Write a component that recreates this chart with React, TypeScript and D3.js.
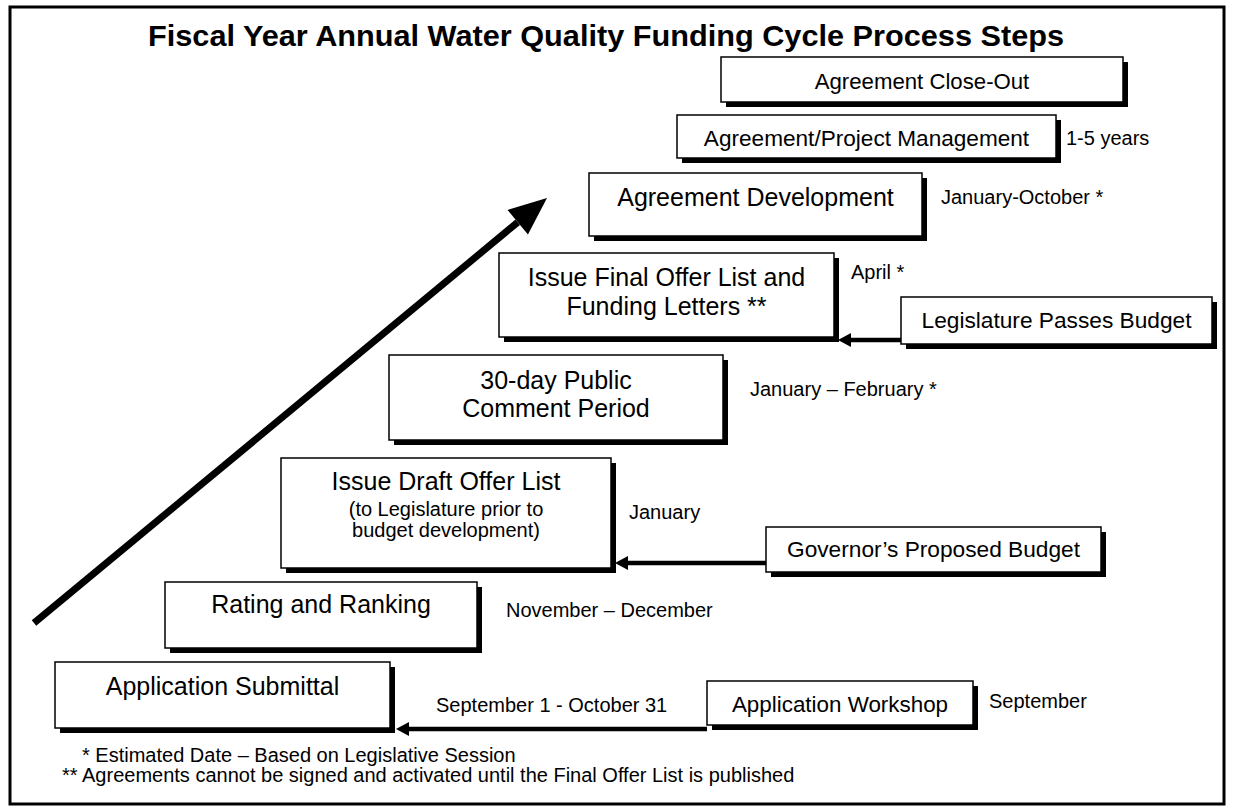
import React from "react";
import * as d3 from "d3";

const TITLE = "Fiscal Year Annual Water Quality Funding Cycle Process Steps";

// Process steps, bottom to top
const stepLines: string[][] = [
  ["Application Submittal"],
  ["Rating and Ranking"],
  ["Issue Draft Offer List", "(to Legislature prior to", "budget development)"],
  ["30-day Public", "Comment Period"],
  ["Issue Final Offer List and", "Funding Letters **"],
  ["Agreement Development"],
  ["Agreement/Project Management"],
  ["Agreement Close-Out"],
];
const stepTimes: string[] = [
  "",
  "November – December",
  "January",
  "January – February *",
  "April *",
  "January-October *",
  "1-5 years",
  "",
];

// External inputs feeding steps
const inputLabels = ["Application Workshop", "Governor’s Proposed Budget", "Legislature Passes Budget"];
const inputTargets = [0, 2, 4];
const inputTimes = ["September", "", ""];
const inputArrowLabels = ["September 1 - October 31", "", ""];

const footnotes = [
  "* Estimated Date – Based on Legislative Session",
  "** Agreements cannot be signed and activated until the Final Offer List is published",
];

// ---- layout (positions / sizes) ----
const stepLayout = [
  { x: 55, y: 662, w: 335, h: 66, base: [695], fs: [25] },
  { x: 165, y: 582, w: 312, h: 66, base: [613], fs: [25] },
  { x: 281, y: 458, w: 330, h: 110, base: [490, 516, 537], fs: [25, 20, 20] },
  { x: 389, y: 355, w: 334, h: 85, base: [389, 417], fs: [25, 25] },
  { x: 499, y: 253, w: 335, h: 84, base: [286, 315], fs: [25, 25] },
  { x: 589, y: 173, w: 333, h: 63, base: [206], fs: [25] },
  { x: 677, y: 115, w: 379, h: 43, base: [146], fs: [22.6] },
  { x: 721, y: 57, w: 402, h: 45, base: [89], fs: [22.2] },
];
const timeLayout = [
  null,
  { x: 506, y: 617 },
  { x: 629, y: 519 },
  { x: 750, y: 396 },
  { x: 851, y: 279 },
  { x: 941, y: 204 },
  { x: 1066, y: 145 },
  null,
];
const inputLayout = [
  { x: 707, y: 681, w: 266, h: 44, base: 712, fs: 22.4, arrowY: 729, tipX: 396, timeX: 989, timeY: 708, labX: 436, labY: 712 },
  { x: 766, y: 527, w: 335, h: 45, base: 557, fs: 22.7, arrowY: 563, tipX: 615, timeX: 0, timeY: 0, labX: 0, labY: 0 },
  { x: 901, y: 297, w: 311, h: 47, base: 328, fs: 22.7, arrowY: 340, tipX: 838, timeX: 0, timeY: 0, labX: 0, labY: 0 },
];

const FONT = "'Liberation Sans', Arial, Helvetica, sans-serif";
const SH = 5;

function Box({ x, y, w, h }: { x: number; y: number; w: number; h: number }) {
  return (
    <g>
      <rect x={x + SH} y={y + SH} width={w} height={h} fill="#000" />
      <rect x={x} y={y} width={w} height={h} fill="#fff" stroke="#000" strokeWidth={1.5} />
    </g>
  );
}

function arrowHead(tipX: number, tipY: number, fromX: number, fromY: number, len: number, half: number) {
  const ang = Math.atan2(tipY - fromY, tipX - fromX);
  const bx = tipX - len * Math.cos(ang);
  const by = tipY - len * Math.sin(ang);
  const px = -Math.sin(ang) * half;
  const py = Math.cos(ang) * half;
  const p = d3.path();
  p.moveTo(tipX, tipY);
  p.lineTo(bx + px, by + py);
  p.lineTo(bx - px, by - py);
  p.closePath();
  return { d: p.toString(), bx, by };
}

export default function App() {
  const line = d3.line();
  const main = arrowHead(547, 198, 34, 623, 38, 16);
  return (
    <svg width={1235} height={810} style={{ position: "absolute", left: 0, top: 0 }} fontFamily={FONT}>
      <rect x={0} y={0} width={1235} height={810} fill="#fff" />
      <rect x={10} y={7} width={1214} height={797} fill="none" stroke="#000" strokeWidth={3} />
      <text x={148} y={46} fontWeight="bold" fontSize={30} textLength={916} lengthAdjust="spacingAndGlyphs">
        {TITLE}
      </text>

      {/* main rising arrow */}
      <path d={line([[34, 623], [main.bx, main.by]]) || ""} stroke="#000" strokeWidth={7} fill="none" />
      <path d={main.d} fill="#000" />

      {stepLines.map((lines, i) => {
        const L = stepLayout[i];
        return (
          <g key={"s" + i}>
            <Box x={L.x} y={L.y} w={L.w} h={L.h} />
            {lines.map((t, j) => (
              <text key={j} x={L.x + L.w / 2} y={L.base[j]} textAnchor="middle" fontSize={L.fs[j]}>
                {t}
              </text>
            ))}
          </g>
        );
      })}

      {stepTimes.map((t, i) => {
        const P = timeLayout[i];
        if (!t || !P) return null;
        return (
          <text key={"t" + i} x={P.x} y={P.y} fontSize={20}>
            {t}
          </text>
        );
      })}

      {inputLabels.map((lab, i) => {
        const L = inputLayout[i];
        const ah = arrowHead(L.tipX, L.arrowY, L.x, L.arrowY, 13, 7);
        return (
          <g key={"in" + i} data-target={inputTargets[i]}>
            <path d={line([[L.x, L.arrowY], [ah.bx, ah.by]]) || ""} stroke="#000" strokeWidth={4.5} fill="none" />
            <path d={ah.d} fill="#000" />
            <Box x={L.x} y={L.y} w={L.w} h={L.h} />
            <text x={L.x + L.w / 2} y={L.base} textAnchor="middle" fontSize={L.fs}>
              {lab}
            </text>
            {inputTimes[i] && (
              <text x={L.timeX} y={L.timeY} fontSize={20}>
                {inputTimes[i]}
              </text>
            )}
            {inputArrowLabels[i] && (
              <text x={L.labX} y={L.labY} fontSize={20}>
                {inputArrowLabels[i]}
              </text>
            )}
          </g>
        );
      })}

      <text x={82} y={762} fontSize={20}>{footnotes[0]}</text>
      <text x={62} y={782} fontSize={20}>{footnotes[1]}</text>
    </svg>
  );
}
